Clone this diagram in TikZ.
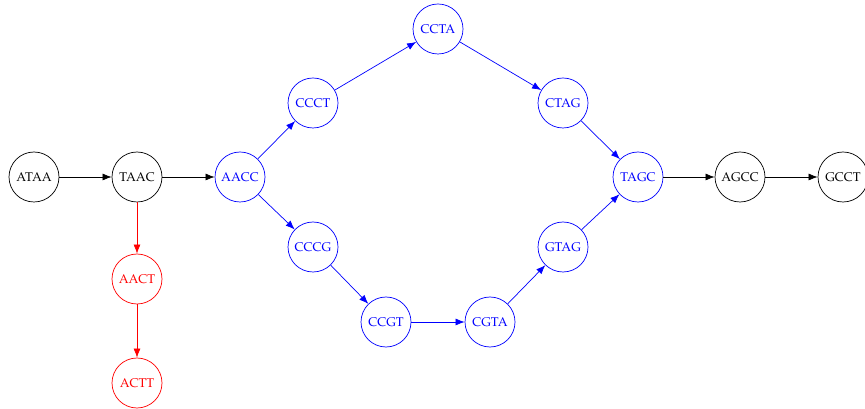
\documentclass[tikz,border=0pt]{standalone}
\usepackage[T1]{fontenc}
\usepackage{mathpazo}
\usetikzlibrary{positioning, automata, arrows.meta}

\begin{document}
\begin{tikzpicture}[on grid, node distance=2.575cm,
    kmer/.style={state, minimum size=1.25cm, inner sep=0pt, font=\small, line width=0.5pt},
    bubble/.style={kmer, draw=blue, text=blue},
    tip/.style={kmer, draw=red, text=red},
    edge/.style={-{Latex[length=6.5pt,width=5pt]}, line width=0.5pt}]
    \useasboundingbox (-0.85,-5.8) rectangle (20.775,4.425);
    \node[kmer] (ATAA) at (0,0) {ATAA};
    \node[kmer, right=of ATAA] (TAAC) {TAAC};
    \node[bubble, right=of TAAC] (AACC) {AACC};
    \node[bubble, above right=1.85cm and 1.825cm of AACC] (CCCT) {CCCT};
    \node[bubble, above right=1.85cm and 3.125cm of CCCT] (CCTA) {CCTA};
    \node[bubble, below right=1.85cm and 3.125cm of CCTA] (CTAG) {CTAG};
    \node[bubble, below right=1.85cm and 1.875cm of CTAG] (TAGC) {TAGC};
    \node[bubble, below right=1.75cm and 1.825cm of AACC] (CCCG) {CCCG};
    \node[bubble, below right=1.875cm and 1.825cm of CCCG] (CCGT) {CCGT};
    \node[bubble, right=2.6cm of CCGT] (CGTA) {CGTA};
    \node[bubble, above right=1.875cm and 1.825cm of CGTA] (GTAG) {GTAG};
    \node[kmer, right=2.55cm of TAGC] (AGCC) {AGCC};
    \node[kmer, right=of AGCC] (GCCT) {GCCT};
    \node[tip, below=2.55cm of TAAC] (AACT) {AACT};
    \node[tip, below=2.6cm of AACT] (ACTT) {ACTT};

    \draw[edge] (ATAA) -- (TAAC);
    \draw[edge] (TAAC) -- (AACC);
    \draw[edge, red] (TAAC) -- (AACT);
    \draw[edge, red] (AACT) -- (ACTT);
    \draw[edge, blue] (AACC) -- (CCCT);
    \draw[edge, blue] (CCCT) -- (CCTA);
    \draw[edge, blue] (CCTA) -- (CTAG);
    \draw[edge, blue] (CTAG) -- (TAGC);
    \draw[edge, blue] (AACC) -- (CCCG);
    \draw[edge, blue] (CCCG) -- (CCGT);
    \draw[edge, blue] (CCGT) -- (CGTA);
    \draw[edge, blue] (CGTA) -- (GTAG);
    \draw[edge, blue] (GTAG) -- (TAGC);
    \draw[edge] (TAGC) -- (AGCC);
    \draw[edge] (AGCC) -- (GCCT);
\end{tikzpicture}
\end{document}
